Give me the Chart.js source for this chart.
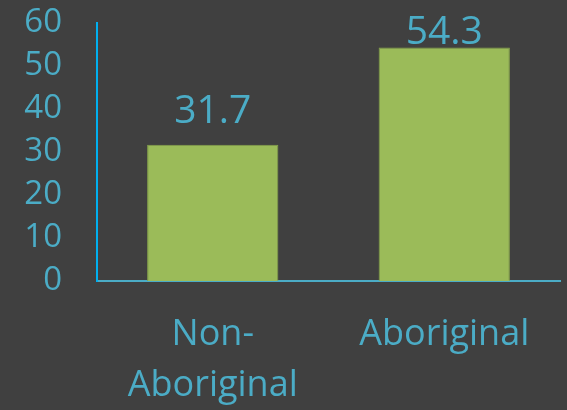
<!DOCTYPE html>
<html>
<head>
<meta charset="utf-8">
<script src="https://cdn.jsdelivr.net/npm/chart.js@4.4.1/dist/chart.umd.min.js"></script>
<style>
  html, body { margin: 0; padding: 0; background: #404040; }
  #wrap { width: 567px; height: 410px; }
</style>
</head>
<body>
<div id="wrap"><canvas id="chart"></canvas></div>
<script>
// chart data
const categories = [["Non-", "Aboriginal"], ["Aboriginal"]];
const values = [31.7, 54.3];
const yTicks = [0, 10, 20, 30, 40, 50, 60];

const cyan = "#4bacc6";

// value labels above each bar
const barLabels = {
  id: "barLabels",
  afterDatasetsDraw(chart) {
    const ctx = chart.ctx;
    const meta = chart.getDatasetMeta(0);
    ctx.save();
    ctx.font = "39px 'Open Sans'";
    ctx.fillStyle = cyan;
    ctx.textAlign = "center";
    ctx.textBaseline = "alphabetic";
    meta.data.forEach((bar, i) => {
      const y = Math.max(bar.y - 22, chart.chartArea.top + 21);
      ctx.fillText(values[i].toFixed(1), bar.x, y);
    });
    ctx.restore();
  }
};

new Chart(document.getElementById("chart"), {
  type: "bar",
  data: {
    labels: categories,
    datasets: [{
      data: values,
      backgroundColor: "#9bbb59",
      borderColor: "#86a34a",
      borderWidth: 1,
      barPercentage: 0.567,
      categoryPercentage: 1.0
    }]
  },
  options: {
    responsive: true,
    maintainAspectRatio: false,
    animation: false,
    layout: { padding: { top: 23, right: 7, left: 0, bottom: 0 } },
    plugins: {
      legend: { display: false },
      tooltip: { enabled: false }
    },
    scales: {
      x: {
        grid: { display: false, drawTicks: false },
        border: { color: cyan, width: 2 },
        ticks: {
          color: cyan,
          padding: 28,
          maxRotation: 0,
          font: { family: "'Open Sans'", size: 36, lineHeight: 1.42 }
        },
        afterFit(scale) { scale.height = 129; }
      },
      y: {
        min: 0,
        max: 60,
        grid: { display: false, drawTicks: false },
        border: { color: "#00b0f0", width: 2 },
        afterBuildTicks(scale) { scale.ticks = yTicks.map(v => ({ value: v })); },
        ticks: {
          color: cyan,
          padding: 35,
          autoSkip: false,
          font: { family: "'Open Sans'", size: 33, lineHeight: 1 }
        },
        afterFit(scale) {
          scale.width = 97;
          // keep the tick padding from pushing the plot area down
          scale.paddingTop = 0;
          scale.paddingBottom = 0;
        }
      }
    }
  },
  plugins: [barLabels]
});
</script>
</body>
</html>
